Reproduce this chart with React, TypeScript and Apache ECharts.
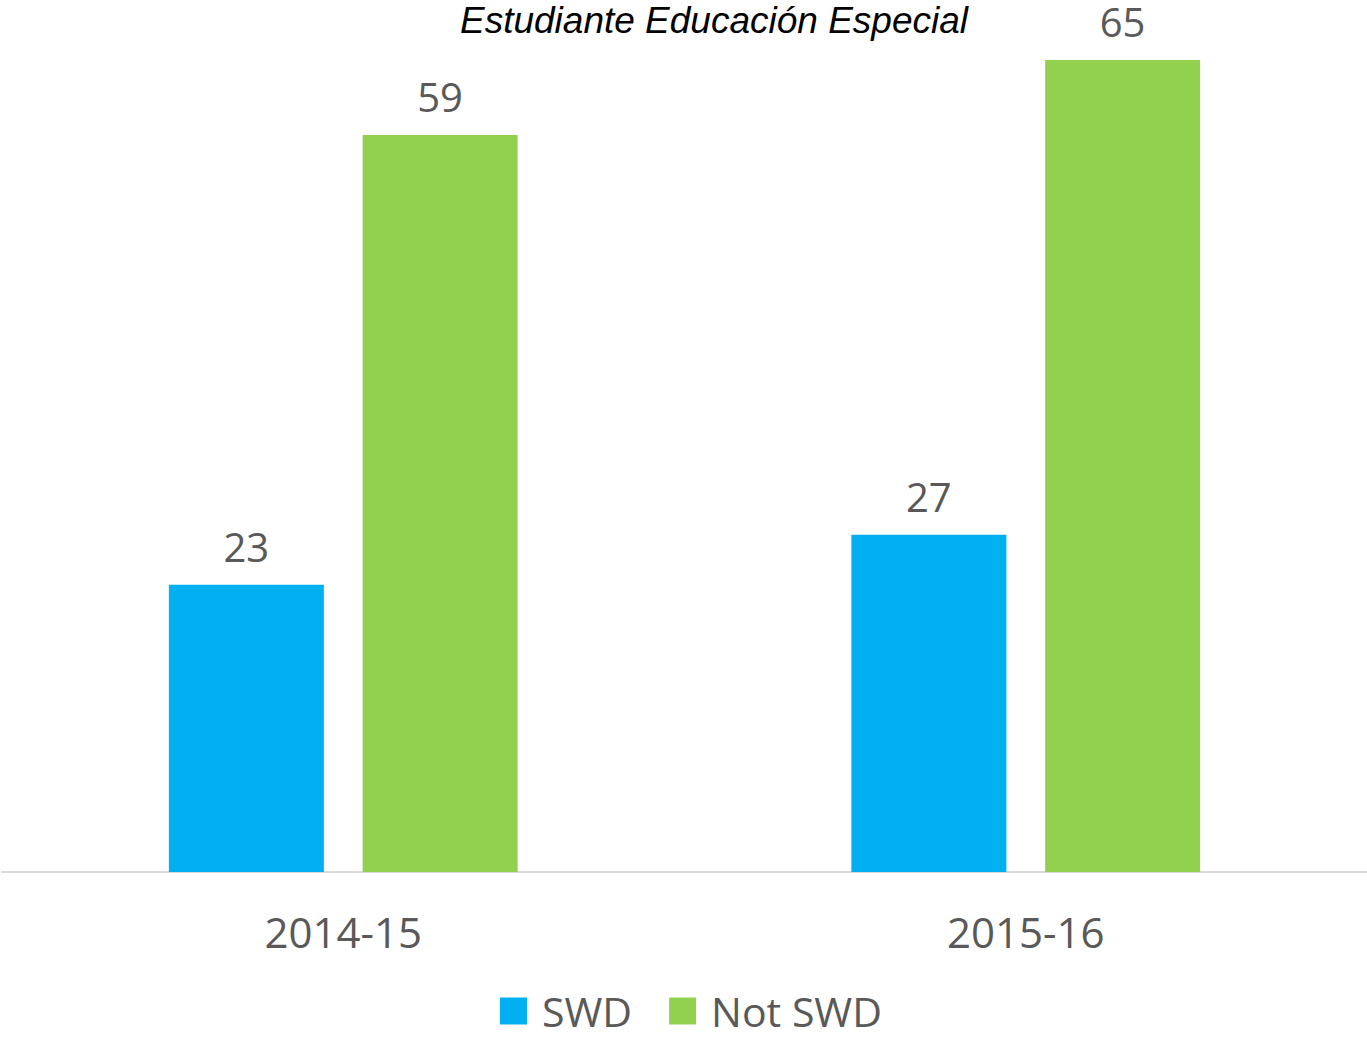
import React, { useEffect, useRef } from "react";
import * as echarts from "echarts";

const categories = ["2014-15", "2015-16"];
const swd = [23, 27];
const notSwd = [59, 65];
const seriesNames = ["SWD", "Not SWD"];
const titleText = "Estudiante Educación Especial";

export default function App() {
  const ref = useRef<HTMLDivElement>(null);
  useEffect(() => {
    document.body.style.margin = "0";
    const chart = echarts.init(ref.current!, null, { renderer: "svg" });
    const font = "'Open Sans', 'Noto Sans', sans-serif";
    const labelStyle = {
      show: true,
      position: "top" as const,
      distance: 20,
      color: "#595959",
      fontSize: 40,
      lineHeight: 36,
      fontFamily: font,
    };
    chart.setOption({
      animation: false,
      backgroundColor: "#ffffff",
      graphic: [
        {
          type: "text",
          x: 714,
          y: 20,
          style: {
            text: titleText,
            fontFamily: "'Liberation Sans', Arial, sans-serif",
            fontStyle: "italic",
            fontSize: 37,
            fill: "#000000",
            textAlign: "center",
            textVerticalAlign: "middle",
          },
        },
      ],
      legend: {
        top: 990,
        left: 500,
        padding: 0,
        itemWidth: 27,
        itemHeight: 27,
        itemGap: 37,
        icon: "rect",
        textStyle: { color: "#595959", fontSize: 41, lineHeight: 42, fontFamily: font, padding: [0, 0, 0, 10] },
        data: seriesNames,
      },
      grid: { left: 2, right: 0, top: 0, height: 872, containLabel: false },
      xAxis: {
        type: "category",
        data: categories,
        axisLine: { lineStyle: { color: "#d9d9d9", width: 2 } },
        axisTick: { show: false },
        axisLabel: { color: "#595959", fontSize: 42, fontFamily: font, margin: 38 },
      },
      yAxis: {
        type: "value",
        min: 0,
        max: 69.8,
        show: false,
        splitLine: { show: false },
      },
      series: [
        {
          name: seriesNames[0],
          type: "bar",
          data: swd,
          barWidth: 155,
          barGap: "25%",
          itemStyle: { color: "#00B0F0" },
          label: labelStyle,
        },
        {
          name: seriesNames[1],
          type: "bar",
          data: notSwd,
          barWidth: 155,
          barGap: "25%",
          itemStyle: { color: "#92D050" },
          label: labelStyle,
        },
      ],
    });
    return () => chart.dispose();
  }, []);
  return <div ref={ref} style={{ width: 1367, height: 1038 }} />;
}
